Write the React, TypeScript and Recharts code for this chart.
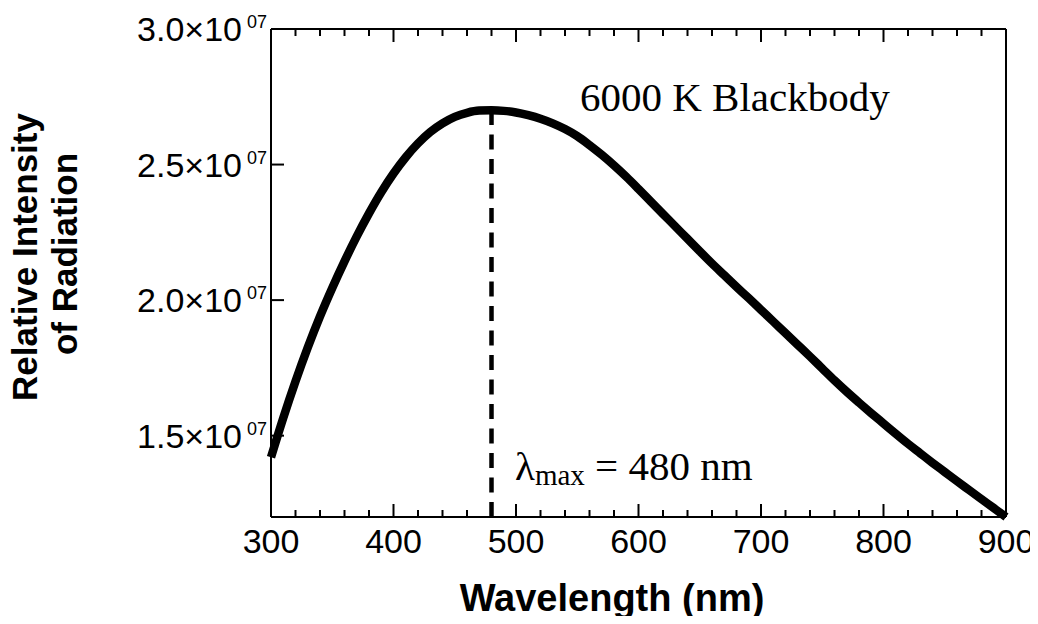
import React from "react";
import { LineChart, Line, XAxis, YAxis, ReferenceLine } from "recharts";

// wavelength (nm) and intensity
const wavelength = [
  300, 310, 320, 330, 340, 350, 360, 370, 380, 390, 400, 410, 420, 430, 440, 450,
  460, 470, 480, 490, 500, 510, 520, 530, 540, 550, 560, 570, 580, 590, 600, 610,
  620, 630, 640, 650, 660, 670, 680, 690, 700, 710, 720, 730, 740, 750, 760, 770,
  780, 790, 800, 810, 820, 830, 840, 850, 860, 870, 880, 890, 900,
];
const intensity = [
  1.42e7, 1.565e7, 1.7e7, 1.825e7, 1.94e7, 2.045e7, 2.143e7, 2.235e7, 2.32e7, 2.398e7,
  2.467e7, 2.527e7, 2.578e7, 2.62e7, 2.652e7, 2.676e7, 2.691e7, 2.699e7, 2.7e7, 2.698e7,
  2.692e7, 2.682e7, 2.669e7, 2.652e7, 2.631e7, 2.605e7, 2.572e7, 2.536e7, 2.497e7, 2.455e7,
  2.41e7, 2.364e7, 2.318e7, 2.272e7, 2.226e7, 2.18e7, 2.135e7, 2.092e7, 2.049e7, 2.007e7,
  1.964e7, 1.921e7, 1.878e7, 1.835e7, 1.792e7, 1.748e7, 1.704e7, 1.662e7, 1.622e7, 1.583e7,
  1.545e7, 1.507e7, 1.47e7, 1.435e7, 1.4e7, 1.366e7, 1.332e7, 1.299e7, 1.266e7, 1.233e7,
  1.2e7,
];

const xTicks = [
  300, 320, 340, 360, 380, 400, 420, 440, 460, 480, 500, 520, 540, 560, 580, 600, 620,
  640, 660, 680, 700, 720, 740, 760, 780, 800, 820, 840, 860, 880, 900,
];
const yTicks = [1.5e7, 2.0e7, 2.5e7, 3.0e7];
const peakWavelength = 480;
const peakIntensity = 2.7e7;

const W = 1038;
const H = 624;
const SANS = "'Liberation Sans', Arial, sans-serif";
const SERIF = "'Liberation Serif', 'Times New Roman', serif";

const data = wavelength.map((w, i) => ({ w, v: intensity[i] }));

// bottom axis: long tick + label on the hundreds, short tick otherwise (ticks point inward)
function BottomTick(props: any) {
  const { x, y, payload } = props;
  const major = payload.value % 100 === 0;
  return (
    <g>
      <line x1={x} x2={x} y1={y} y2={y - (major ? 13 : 7)} stroke="#000" strokeWidth={2} />
      {major && (
        <text x={x} y={y + 36} textAnchor="middle" fontSize={34} fontFamily={SANS} fill="#000">
          {payload.value}
        </text>
      )}
    </g>
  );
}

function TopTick(props: any) {
  const { x, y, payload } = props;
  const major = payload.value % 100 === 0;
  return <line x1={x} x2={x} y1={y} y2={y + (major ? 13 : 7)} stroke="#000" strokeWidth={2} />;
}

function LeftTick(props: any) {
  const { x, y, payload } = props;
  const m = (payload.value / 1e7).toFixed(1);
  return (
    <g fill="#000" fontFamily={SANS}>
      <text x={x - 42} y={y + 12} textAnchor="end" fontSize={34}>
        {m}×10
      </text>
      <text x={x - 37} y={y - 1} textAnchor="start" fontSize={18}>
        07
      </text>
    </g>
  );
}

export default function App() {
  return (
    <div style={{ position: "relative", width: W, height: H, margin: -8, overflow: "hidden" }}>
      <style>{"html, body { overflow: hidden; } .recharts-surface { overflow: visible; }"}</style>
      <LineChart width={W} height={H} data={data} margin={{ top: 28, right: 31, bottom: 0, left: 0 }}>
        <XAxis
          xAxisId="b"
          dataKey="w"
          type="number"
          domain={[300, 900]}
          ticks={xTicks}
          interval={0}
          height={107}
          tickSize={0}
          tickMargin={0}
          tickLine={false}
          tick={<BottomTick />}
          axisLine={{ stroke: "#000", strokeWidth: 2 }}
        />
        <XAxis
          xAxisId="t"
          orientation="top"
          dataKey="w"
          type="number"
          domain={[300, 900]}
          ticks={xTicks}
          interval={0}
          height={1}
          tickSize={0}
          tickMargin={0}
          tickLine={false}
          tick={<TopTick />}
          axisLine={{ stroke: "#000", strokeWidth: 2 }}
        />
        <YAxis
          yAxisId="l"
          type="number"
          domain={[1.2e7, 3.0e7]}
          ticks={yTicks}
          interval={0}
          width={271}
          tickSize={-13}
          tickMargin={0}
          tickLine={{ stroke: "#000", strokeWidth: 2 }}
          tick={<LeftTick />}
          axisLine={{ stroke: "#000", strokeWidth: 2 }}
        />
        <YAxis
          yAxisId="r"
          orientation="right"
          type="number"
          domain={[1.2e7, 3.0e7]}
          ticks={yTicks}
          interval={0}
          width={1}
          tickSize={-13}
          tickMargin={0}
          tickLine={{ stroke: "#000", strokeWidth: 2 }}
          tick={false}
          axisLine={{ stroke: "#000", strokeWidth: 2 }}
        />
        <ReferenceLine
          xAxisId="b"
          yAxisId="l"
          segment={[
            { x: peakWavelength, y: 1.2e7 },
            { x: peakWavelength, y: peakIntensity },
          ]}
          stroke="#000"
          strokeWidth={4.5}
          strokeDasharray="15 9.5"
        />
        <Line
          xAxisId="b"
          yAxisId="l"
          dataKey="v"
          type="monotone"
          stroke="#000"
          strokeWidth={8.5}
          dot={false}
          isAnimationActive={false}
        />
      </LineChart>

      {/* titles and notes */}
      <svg width={W} height={H} style={{ position: "absolute", left: 0, top: 0, pointerEvents: "none" }}>
        <text x={580} y={111} fontSize={41} fontFamily={SERIF} fill="#000">
          6000 K Blackbody
        </text>
        <text x={515} y={480} fontSize={41} fontFamily={SERIF} fill="#000">
          λ
          <tspan fontSize={29} dy={5}>max</tspan>
          <tspan dy={-5}> = 480 nm</tspan>
        </text>
        <text x={612} y={611} textAnchor="middle" fontSize={38} fontWeight="bold" fontFamily={SANS} fill="#000">
          Wavelength (nm)
        </text>
        <text
          x={37}
          y={257}
          transform="rotate(-90 37 257)"
          textAnchor="middle"
          fontSize={35}
          fontWeight="bold"
          fontFamily={SANS}
          fill="#000"
        >
          Relative Intensity
        </text>
        <text
          x={77}
          y={254}
          transform="rotate(-90 77 254)"
          textAnchor="middle"
          fontSize={35}
          fontWeight="bold"
          fontFamily={SANS}
          fill="#000"
        >
          of Radiation
        </text>
      </svg>
    </div>
  );
}
